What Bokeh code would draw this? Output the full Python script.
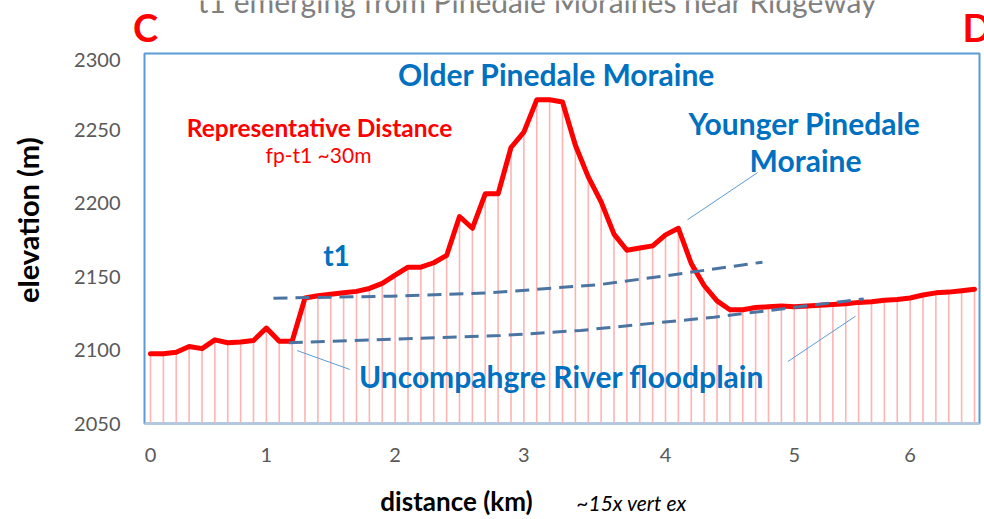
import math
from bokeh.plotting import figure
from bokeh.layouts import column, row
from bokeh.models import Label, FixedTicker, Range1d, ColumnDataSource
from bokeh.embed import file_html
from bokeh.resources import INLINE

# ---------------- data ----------------
elevation_m = [2097.5, 2097.5, 2098.5, 2102.5, 2101, 2107, 2105, 2105.5, 2106.5, 2115,
               2106, 2106, 2135.5, 2137, 2138, 2139, 2140, 2142, 2145.5, 2151,
               2156.5, 2156.5, 2159.5, 2164.5, 2191, 2183, 2206.5, 2206.5, 2238, 2248.5,
               2270.5, 2270.5, 2269, 2239.5, 2218, 2201, 2179, 2168, 2169.5, 2171,
               2178.5, 2183, 2159, 2144, 2133.5, 2127.5, 2127.5, 2129, 2129.5, 2130,
               2129.5, 2130, 2130.5, 2131, 2131.5, 2132.5, 2133, 2134, 2134.5, 2135.5,
               2137.5, 2139, 2139.5, 2140.5, 2141.5]
station = list(range(len(elevation_m)))

# x-axis: station index where each km label sits, and the labels
km_tick_station = [0, 9, 19, 29, 40, 50, 59]
km_tick_labels = ["0", "1", "2", "3", "4", "5", "6"]
elev_ticks = [2050, 2100, 2150, 2200, 2250, 2300]

# interpreted terrace surfaces (station, elevation)
t1_surface_x = [9.55, 18.64, 26.4, 34.95, 40.16, 47.53]
t1_surface_y = [2135.4, 2136.7, 2139.0, 2144.7, 2150.8, 2159.9]
floodplain_x = [10.74, 27.18, 33.40, 43.75, 55.40]
floodplain_y = [2105.0, 2109.9, 2113.4, 2122.4, 2134.9]

# leader lines (station, elevation)
leader_young_x = [41.71, 47.15]
leader_young_y = [2188.8, 2220.9]
leader_fp1_x = [11.39, 15.48]
leader_fp1_y = [2099.7, 2086.8]
leader_fp2_x = [49.50, 54.76]
leader_fp2_y = [2092.2, 2123.1]

Y0, Y1 = 2050, 2302.04
X0, X1 = -0.466, 64.388

BLUE = "#0070C0"
RED = "#FF0000"
FONT = "Lato"
BASE_SHIFT = 0.37  # bokeh draws "alphabetic" text about this many em lower


def blank(width, height):
    f = figure(width=width, height=height, output_backend="svg", toolbar_location=None,
               x_range=Range1d(0, width), y_range=Range1d(height, 0),
               x_axis_type=None, y_axis_type=None, min_border=0)
    f.title.visible = False
    f.xgrid.visible = False
    f.ygrid.visible = False
    f.outline_line_color = None
    f.background_fill_color = "white"
    f.border_fill_color = "white"
    return f


def label(f, text, x, y, size, color, style="normal", align="center", baseline="alphabetic", angle=0.0):
    f.add_layout(Label(x=x, y=y, text=text, text_font=FONT, text_font_size=f"{size}px",
                       text_font_style=style, text_color=color, text_align=align,
                       text_baseline=baseline, angle=angle))


# ---------------- header (page y 0..52) ----------------
head = blank(984, 52)
label(head, "t1 emerging from Pinedale Moraines near Ridgeway", 537, 12 - BASE_SHIFT * 30, 30, "#808080")
label(head, "C", 145, 41 - BASE_SHIFT * 38, 38, RED, "bold")
label(head, "D", 962, 41 - BASE_SHIFT * 38, 38, RED, "bold", align="left")

# ---------------- left strip (page x 0..58, y 52..476) ----------------
left = blank(58, 424)
label(left, "elevation (m)", 27, 243 - 52, 29, "#000000", "bold", baseline="middle", angle=math.pi / 2)

# ---------------- main chart (page x 58..984, y 52..476) ----------------
p = figure(width=926, height=424, output_backend="svg", toolbar_location=None,
           x_range=Range1d(X0, X1), y_range=Range1d(Y0, Y1),
           min_border_left=86, min_border_right=5, min_border_top=1, min_border_bottom=53)
p.title.visible = False
p.xgrid.visible = False
p.ygrid.visible = False
p.outline_line_color = "#5B9BD5"
p.outline_line_width = 2
p.background_fill_color = "white"
p.border_fill_color = "white"

for ax in (p.xaxis, p.yaxis):
    ax.major_tick_line_color = None
    ax.minor_tick_line_color = None
    ax.major_tick_out = 0
    ax.major_tick_in = 0
    ax.minor_tick_out = 0
    ax.major_label_text_font = FONT
    ax.major_label_text_font_size = "20px"
    ax.major_label_text_color = "#595959"
p.yaxis.axis_line_color = None
p.xaxis.axis_line_color = "#B4C7DC"
p.xaxis.axis_line_width = 2
p.yaxis.ticker = FixedTicker(ticks=elev_ticks)
p.xaxis.ticker = FixedTicker(ticks=km_tick_station)
p.xaxis.major_label_overrides = {s: l for s, l in zip(km_tick_station, km_tick_labels)}
p.yaxis.major_label_standoff = 24
p.xaxis.major_label_standoff = 24

src = ColumnDataSource(dict(x=station, y=elevation_m))
p.segment(x0="x", y0="y", x1="x", y1=Y0, source=src, line_color="#FFB3B3", line_width=1.6)
p.line("x", "y", source=src, line_color=RED, line_width=5, line_join="round", line_cap="round")

dash_col = "#4A74A2"
p.line(t1_surface_x, t1_surface_y, line_color=dash_col, line_width=3, line_dash="14 8")
p.line(floodplain_x, floodplain_y, line_color=dash_col, line_width=3, line_dash="14 8")
for lx_, ly_ in ((leader_young_x, leader_young_y), (leader_fp1_x, leader_fp1_y), (leader_fp2_x, leader_fp2_y)):
    p.line(lx_, ly_, line_color="#5B9BD5", line_width=1)


def lx(ref_x):
    return (ref_x - 150.0) / 12.875


def ly(ref_y):
    return 2050 + (423.0 - ref_y) * 50 / 73.4


def plabel(text, x, y, size, color, style="normal"):
    label(p, text, lx(x), ly(y - BASE_SHIFT * size), size, color, style)


plabel("Older Pinedale Moraine", 556, 85, 30, BLUE, "bold")
plabel("Younger Pinedale", 804, 134, 30, BLUE, "bold")
plabel("Moraine", 805, 171, 30, BLUE, "bold")
plabel("Representative Distance", 319, 136, 24.5, RED, "bold")
plabel("fp-t1 ~30m", 318, 162, 21, RED)
plabel("t1", 336, 265, 28, BLUE, "bold")
plabel("Uncompahgre River floodplain", 561, 387, 30, BLUE, "bold")

# ---------------- footer (page y 476..519) ----------------
foot = blank(984, 43)
label(foot, "distance (km)", 456, 510 - 476 - BASE_SHIFT * 26, 26, "#000000", "bold")
label(foot, "~15x vert ex", 631, 510 - 476 - BASE_SHIFT * 21, 21, "#000000", "italic")

layout = column(head, row(left, p), foot)
open("out.html", "w").write(file_html(layout, INLINE))
